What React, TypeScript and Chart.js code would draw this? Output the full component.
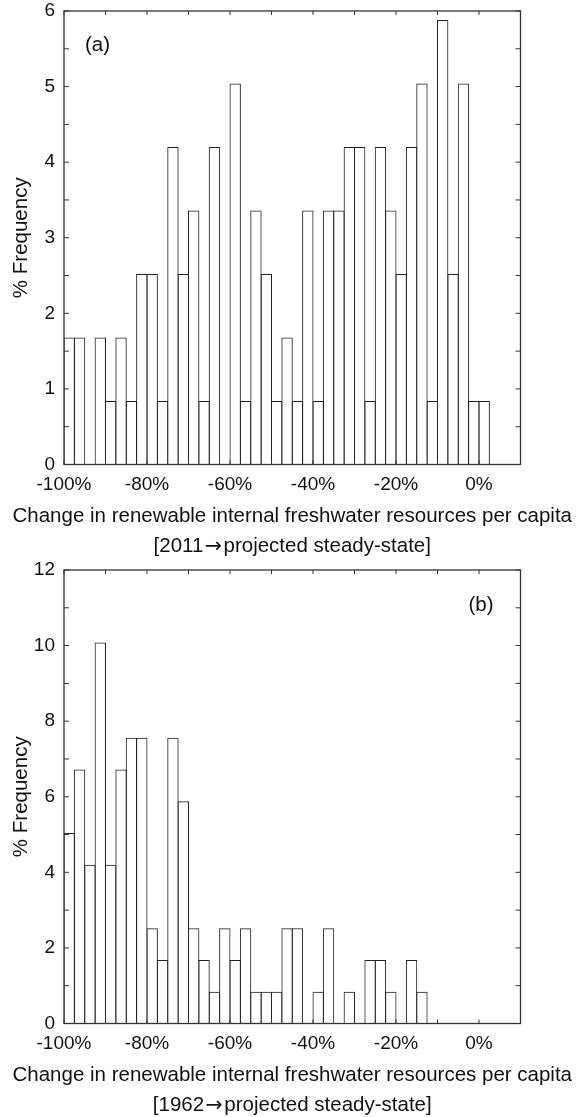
import React, { useEffect, useRef } from 'react';
import { Chart, registerables } from 'chart.js';

Chart.register(...registerables);

// ---- data ----
const BIN_STARTS = [
  -100, -97.5, -95, -92.5, -90, -87.5, -85, -82.5, -80, -77.5,
  -75, -72.5, -70, -67.5, -65, -62.5, -60, -57.5, -55, -52.5,
  -50, -47.5, -45, -42.5, -40, -37.5, -35, -32.5, -30, -27.5,
  -25, -22.5, -20, -17.5, -15, -12.5, -10, -7.5, -5, -2.5, 0,
];
const BIN_WIDTH = 2.5;

// % frequency, 2011 -> projected steady-state (panel a)
const FREQ_2011 = [
  1.68, 1.68, 0, 1.68, 0.84, 1.68, 0.84, 2.52, 2.52, 0.84,
  4.2, 2.52, 3.36, 0.84, 4.2, 0, 5.04, 0.84, 3.36, 2.52,
  0.84, 1.68, 0.84, 3.36, 0.84, 3.36, 3.36, 4.2, 4.2, 0.84,
  4.2, 3.36, 2.52, 4.2, 5.04, 0.84, 5.88, 2.52, 5.04, 0.84, 0.84,
];

// % frequency, 1962 -> projected steady-state (panel b)
const FREQ_1962 = [
  5.04, 6.72, 4.2, 10.08, 4.2, 6.72, 7.56, 7.56, 2.52, 1.68,
  7.56, 5.88, 2.52, 1.68, 0.84, 2.52, 1.68, 2.52, 0.84, 0.84,
  0.84, 2.52, 2.52, 0, 0.84, 2.52, 0, 0.84, 0, 1.68,
  1.68, 0.84, 0, 1.68, 0.84, 0, 0, 0, 0, 0, 0,
];

const X_MIN = -100;
const X_MAX = 10;
const X_STEP = 10;
const X_LABELED = [-100, -80, -60, -40, -20, 0];

const X_TITLE = 'Change in renewable internal freshwater resources per capita';
const SUBTITLE_A = ['[2011', '\u2192', 'projected steady-state]'];
const SUBTITLE_B = ['[1962', '\u2192', 'projected steady-state]'];
const Y_TITLE = '% Frequency';

// ---- style ----
const FONT = '"Liberation Sans", Arial, Helvetica, sans-serif';
const ARROW_FONT = '"DejaVu Sans", sans-serif';
const TEXT = '#111';
const LINE = '#222';
const W = 579;
const PLOT_TOP = 11;
const PLOT_BOTTOM = 464.5;
const PAD_RIGHT = 58.5;
const Y_AXIS_W = 64;
const BIN_PX = (W - PAD_RIGHT - Y_AXIS_W) / ((X_MAX - X_MIN) / BIN_WIDTH);
const BAR_PCT = (BIN_PX + 1) / BIN_PX;

const framePlugin = {
  id: 'frame',
  afterDatasetsDraw(chart: any, _args: any, opts: any) {
    const { ctx, chartArea } = chart;
    const { left, right, top, bottom } = chartArea;
    const x = chart.scales.x;
    const y = chart.scales.y;
    ctx.save();
    ctx.strokeStyle = '#333';
    ctx.lineWidth = 1;
    const seg = (x1: number, y1: number, x2: number, y2: number) => {
      ctx.beginPath();
      ctx.moveTo(x1, y1);
      ctx.lineTo(x2, y2);
      ctx.stroke();
    };
    x.ticks.forEach((t: any) => {
      const px = x.getPixelForValue(t.value);
      seg(px, top, px, top + 4);
      seg(px, bottom, px, bottom - 4);
    });
    for (let v = y.min; v <= y.max + 1e-9; v += opts.minor) {
      const py = y.getPixelForValue(v);
      seg(left, py, left + 5, py);
      seg(right, py, right - 5, py);
    }
    ctx.lineWidth = 1.3;
    ctx.strokeRect(left, top, right - left, bottom - top);

    ctx.fillStyle = TEXT;
    ctx.textBaseline = 'alphabetic';
    const mainFont = `20.5px ${FONT}`;
    const arrowFont = `20.5px ${ARROW_FONT}`;
    ctx.font = mainFont;
    if (opts.tagSide === 'left') {
      ctx.textAlign = 'left';
      ctx.fillText(opts.tag, left + 21, top + 40);
    } else {
      ctx.textAlign = 'right';
      ctx.fillText(opts.tag, right - 27, top + 41);
    }
    const cx = (left + right) / 2;
    ctx.textAlign = 'center';
    ctx.fillText(X_TITLE, cx, bottom + 57.5);

    // subtitle: text, arrow, text
    const parts: string[] = opts.subtitle;
    const fonts = [mainFont, arrowFont, mainFont];
    const widths = parts.map((p, i) => {
      ctx.font = fonts[i];
      return ctx.measureText(p).width;
    });
    const gap = 1.5;
    const total = widths.reduce((a, b) => a + b, 0) + gap * 2;
    let sx = cx - total / 2;
    ctx.textAlign = 'left';
    parts.forEach((p, i) => {
      ctx.font = fonts[i];
      ctx.fillText(p, sx, bottom + 87.2);
      sx += widths[i] + gap;
    });
    ctx.restore();
  },
};

type PanelProps = {
  values: number[];
  subtitle: string[];
  tag: string;
  tagSide: 'left' | 'right';
  yMax: number;
  yStep: number;
  yMinor: number;
  height: number;
  top: number;
};

function Panel({ values, subtitle, tag, tagSide, yMax, yStep, yMinor, height, top }: PanelProps) {
  const ref = useRef<HTMLCanvasElement>(null);
  useEffect(() => {
    const canvas = ref.current;
    if (!canvas) return;
    const chart = new Chart(canvas, {
      type: 'bar',
      data: {
        datasets: [
          {
            data: BIN_STARTS.map((s, i) => ({ x: s + BIN_WIDTH / 2, y: values[i] })),
            backgroundColor: 'rgba(255,255,255,0)',
            borderColor: LINE,
            borderWidth: 1,
            borderSkipped: 'start',
            barPercentage: BAR_PCT,
            categoryPercentage: 1,
            inflateAmount: 0,
          } as any,
        ],
      },
      options: {
        responsive: false,
        animation: false,
        devicePixelRatio: 1,
        layout: { padding: { top: PLOT_TOP, right: PAD_RIGHT, bottom: 0, left: 0 } },
        plugins: {
          legend: { display: false },
          tooltip: { enabled: false },
          frame: { minor: yMinor, tag, tagSide, subtitle },
        } as any,
        scales: {
          x: {
            type: 'linear',
            min: X_MIN,
            max: X_MAX,
            offset: false,
            grid: { display: false, drawTicks: false },
            border: { display: false },
            ticks: {
              stepSize: X_STEP,
              padding: 11,
              autoSkip: false,
              maxRotation: 0,
              color: TEXT,
              font: { family: FONT, size: 19, lineHeight: 1 },
              callback: (v: any) => (X_LABELED.includes(Number(v)) ? `${v}%` : ''),
            },
            afterFit: (s: any) => {
              s.height = height - PLOT_BOTTOM;
              s.paddingLeft = 0;
              s.paddingRight = 0;
            },
          },
          y: {
            type: 'linear',
            min: 0,
            max: yMax,
            grid: { display: false, drawTicks: false },
            border: { display: false },
            ticks: {
              stepSize: yStep,
              padding: 9,
              color: TEXT,
              font: { family: FONT, size: 19, lineHeight: 1 },
            },
            title: {
              display: true,
              text: Y_TITLE,
              color: TEXT,
              font: { family: FONT, size: 20.5, lineHeight: 1.2 },
              padding: { top: 8.7, bottom: 0 },
            },
            afterFit: (s: any) => {
              s.width = Y_AXIS_W;
              s.paddingTop = 0;
              s.paddingBottom = 0;
            },
          },
        },
      } as any,
      plugins: [framePlugin],
    });
    return () => chart.destroy();
  }, []);
  return (
    <canvas
      ref={ref}
      width={W}
      height={height}
      style={{ position: 'absolute', left: 0, top, width: W, height, display: 'block' }}
    />
  );
}

export default function App() {
  return (
    <div style={{ position: 'absolute', left: 0, top: 0, width: W, height: 1117, background: '#fff' }}>
      <Panel values={FREQ_2011} subtitle={SUBTITLE_A} tag="(a)" tagSide="left" yMax={6} yStep={1} yMinor={0.5} height={559} top={0} />
      <Panel values={FREQ_1962} subtitle={SUBTITLE_B} tag="(b)" tagSide="right" yMax={12} yStep={2} yMinor={1} height={558} top={559} />
    </div>
  );
}
